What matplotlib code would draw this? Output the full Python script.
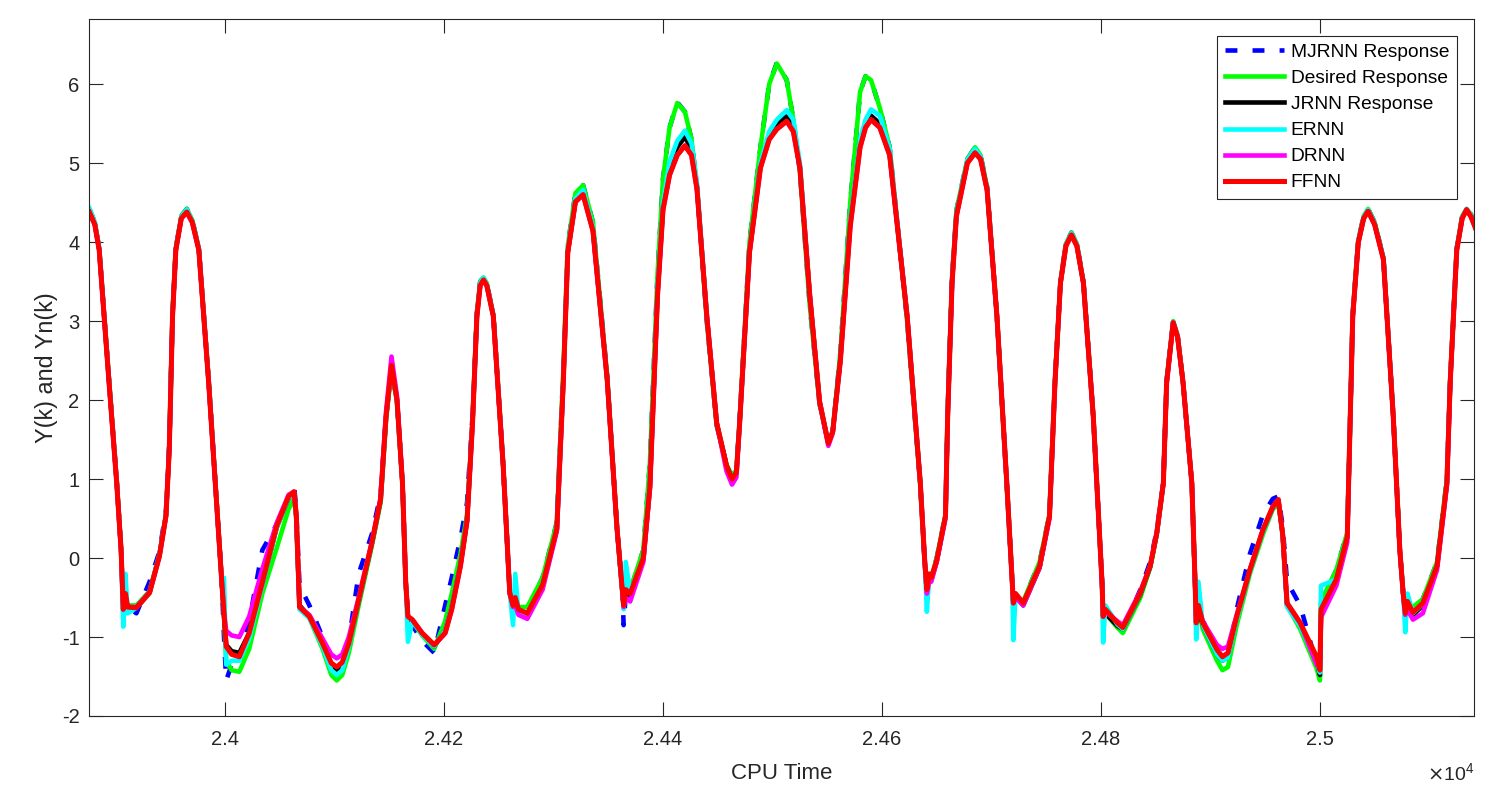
import matplotlib
matplotlib.use("Agg")
import matplotlib.pyplot as plt

plt.rcParams['font.family'] = ['Liberation Sans', 'DejaVu Sans']
plt.rcParams['axes.unicode_minus'] = False

# CPU time samples (shared by all series)
cpu_time = [
    23876, 23881, 23885, 23894, 23901, 23905, 23907, 23909, 23911, 23919,
    23931, 23940, 23946, 23949, 23952, 23955, 23960, 23965, 23970, 23976,
    23985, 23993, 23997, 23999, 24001, 24006, 24013, 24022, 24034, 24047,
    24058, 24063, 24065, 24068, 24077, 24089, 24097, 24102, 24107, 24113,
    24122, 24134, 24142, 24147, 24152, 24157, 24162, 24165, 24167, 24171,
    24180, 24191, 24201, 24207, 24215, 24221, 24226, 24230, 24233, 24236,
    24239, 24245, 24254, 24260, 24263, 24265, 24268, 24276, 24290, 24303,
    24309, 24313, 24320, 24327, 24336, 24349, 24358, 24363, 24364, 24366,
    24370, 24382, 24388, 24395, 24400, 24406, 24413, 24420, 24426, 24431,
    24440, 24449, 24458, 24463, 24467, 24470, 24479, 24489, 24497, 24504,
    24513, 24519, 24525, 24534, 24543, 24551, 24555, 24562, 24571, 24580,
    24585, 24590, 24598, 24607, 24623, 24635, 24639, 24641, 24643, 24645,
    24650, 24658, 24660, 24664, 24668, 24678, 24685, 24690, 24696, 24705,
    24714, 24719, 24720, 24722, 24729, 24744, 24753, 24758, 24763, 24768,
    24773, 24778, 24784, 24793, 24801, 24802, 24804, 24815, 24820, 24836,
    24845, 24851, 24857, 24860, 24866, 24870, 24875, 24883, 24886, 24887,
    24889, 24893, 24906, 24911, 24916, 24924, 24936, 24948, 24957, 24962,
    24966, 24970, 24982, 24997, 25000, 25001, 25015, 25025, 25027, 25030,
    25035, 25040, 25044, 25050, 25058, 25067, 25073, 25076, 25078, 25080,
    25085, 25094, 25107, 25116, 25119, 25125, 25130, 25134, 25138, 25142,
]

mjrnn = [
    4.42, 4.25, 3.92, 2.25, 0.98, 0.12, -0.70, -0.55, -0.62, -0.70,
    -0.30, 0.08, 0.60, 1.45, 3.10, 3.92, 4.33, 4.42, 4.28, 3.92,
    2.25, 0.55, -0.30, -1.00, -1.55, -1.35, -1.35, -0.80, 0.10, 0.42,
    0.75, 0.93, 0.60, -0.35, -0.60, -1.00, -1.35, -1.45, -1.38, -1.05,
    -0.20, 0.30, 0.80, 1.80, 2.40, 1.98, 0.95, -0.31, -0.75, -0.85,
    -1.05, -1.20, -0.60, -0.25, 0.25, 0.70, 1.80, 3.10, 3.50, 3.55,
    3.48, 3.08, 1.17, -0.44, -0.65, -0.55, -0.70, -0.65, -0.25, 0.45,
    2.40, 3.95, 4.62, 4.72, 4.25, 2.30, 0.37, -0.44, -0.85, -0.45,
    -0.42, 0.10, 1.20, 3.60, 4.80, 5.45, 5.77, 5.65, 5.30, 4.70,
    3.00, 1.68, 1.18, 1.05, 1.10, 1.75, 4.00, 5.20, 6.00, 6.27,
    6.05, 5.55, 4.90, 3.20, 1.95, 1.45, 1.60, 2.60, 4.50, 5.90,
    6.10, 6.05, 5.70, 5.20, 3.00, 0.92, -0.05, -0.45, -0.30, -0.25,
    0.00, 0.55, 1.85, 3.55, 4.40, 5.05, 5.20, 5.10, 4.70, 3.05,
    0.92, -0.31, -0.62, -0.50, -0.55, -0.05, 0.55, 2.25, 3.50, 3.98,
    4.12, 3.98, 3.50, 1.80, -0.31, -0.78, -0.70, -0.85, -0.92, -0.40,
    -0.05, 0.35, 0.95, 2.25, 3.00, 2.82, 2.22, 0.95, -0.31, -0.75,
    -0.70, -0.78, -1.25, -1.35, -1.30, -0.65, 0.05, 0.55, 0.75, 0.78,
    0.40, -0.30, -0.60, -1.35, -1.50, -0.60, -0.15, 0.32, 1.40, 3.10,
    4.02, 4.33, 4.42, 4.25, 3.80, 1.80, 0.10, -0.44, -0.70, -0.58,
    -0.65, -0.52, -0.05, 1.00, 2.25, 3.92, 4.33, 4.42, 4.35, 4.20,
]

desired = [
    4.42, 4.25, 3.92, 2.25, 0.98, 0.12, -0.70, -0.55, -0.60, -0.60,
    -0.42, 0.05, 0.55, 1.40, 3.10, 3.92, 4.33, 4.42, 4.28, 3.92,
    2.25, 0.55, -0.30, -0.75, -1.30, -1.42, -1.44, -1.15, -0.45, 0.12,
    0.62, 0.75, 0.50, -0.62, -0.76, -1.15, -1.48, -1.55, -1.48, -1.20,
    -0.60, 0.15, 0.70, 1.75, 2.40, 1.98, 0.95, -0.31, -0.75, -0.80,
    -0.98, -1.15, -0.80, -0.45, 0.05, 0.55, 1.75, 3.10, 3.50, 3.55,
    3.48, 3.08, 1.17, -0.44, -0.62, -0.55, -0.62, -0.62, -0.25, 0.45,
    2.40, 3.95, 4.62, 4.72, 4.25, 2.30, 0.37, -0.44, -0.58, -0.40,
    -0.40, 0.10, 1.20, 3.60, 4.80, 5.45, 5.76, 5.65, 5.30, 4.70,
    3.00, 1.68, 1.18, 1.05, 1.10, 1.75, 4.00, 5.20, 6.00, 6.26,
    6.05, 5.55, 4.90, 3.20, 1.95, 1.45, 1.60, 2.60, 4.50, 5.90,
    6.10, 6.05, 5.70, 5.20, 3.00, 0.92, -0.05, -0.42, -0.30, -0.25,
    0.00, 0.55, 1.85, 3.55, 4.40, 5.05, 5.20, 5.10, 4.70, 3.05,
    0.92, -0.31, -0.60, -0.50, -0.55, -0.05, 0.55, 2.25, 3.50, 3.98,
    4.12, 3.98, 3.50, 1.80, -0.31, -0.75, -0.70, -0.88, -0.95, -0.50,
    -0.12, 0.30, 0.95, 2.25, 3.00, 2.82, 2.22, 0.95, -0.31, -0.80,
    -0.65, -0.90, -1.30, -1.42, -1.38, -0.85, -0.20, 0.30, 0.62, 0.68,
    0.30, -0.60, -0.90, -1.40, -1.55, -0.55, -0.15, 0.32, 1.40, 3.10,
    4.02, 4.33, 4.42, 4.25, 3.80, 1.80, 0.10, -0.44, -0.70, -0.58,
    -0.62, -0.52, -0.05, 1.00, 2.25, 3.92, 4.33, 4.42, 4.35, 4.20,
]

jrnn = [
    4.40, 4.23, 3.91, 2.23, 0.96, 0.10, -0.68, -0.50, -0.62, -0.63,
    -0.44, 0.03, 0.54, 1.38, 3.08, 3.91, 4.31, 4.40, 4.26, 3.91,
    2.23, 0.54, -0.31, -0.72, -1.10, -1.18, -1.20, -0.95, -0.33, 0.38,
    0.76, 0.82, 0.53, -0.60, -0.74, -1.10, -1.38, -1.42, -1.37, -1.10,
    -0.55, 0.18, 0.73, 1.78, 2.42, 2.00, 0.95, -0.31, -0.76, -0.80,
    -0.96, -1.12, -0.92, -0.62, -0.08, 0.48, 1.72, 3.08, 3.47, 3.53,
    3.46, 3.07, 1.17, -0.44, -0.62, -0.55, -0.70, -0.75, -0.36, 0.36,
    2.26, 3.87, 4.52, 4.62, 4.15, 2.26, 0.37, -0.44, -0.62, -0.45,
    -0.50, -0.02, 0.90, 3.35, 4.45, 4.95, 5.20, 5.33, 5.18, 4.70,
    3.06, 1.71, 1.17, 1.00, 1.08, 1.71, 3.88, 4.98, 5.35, 5.50,
    5.59, 5.45, 4.96, 3.33, 1.98, 1.45, 1.60, 2.52, 4.25, 5.28,
    5.50, 5.60, 5.50, 5.12, 3.06, 0.95, -0.03, -0.42, -0.25, -0.28,
    -0.04, 0.53, 1.80, 3.50, 4.35, 5.02, 5.16, 5.07, 4.67, 3.06,
    0.95, -0.31, -0.60, -0.48, -0.60, -0.12, 0.53, 2.22, 3.48, 3.96,
    4.10, 3.96, 3.48, 1.79, -0.31, -0.76, -0.70, -0.86, -0.90, -0.46,
    -0.11, 0.31, 0.95, 2.22, 2.98, 2.80, 2.22, 0.95, -0.31, -0.85,
    -0.65, -0.85, -1.22, -1.30, -1.25, -0.76, -0.16, 0.35, 0.64, 0.73,
    0.30, -0.60, -0.85, -1.30, -1.48, -0.70, -0.28, 0.27, 1.37, 3.06,
    4.00, 4.31, 4.40, 4.23, 3.79, 1.79, 0.10, -0.44, -0.75, -0.65,
    -0.72, -0.60, -0.10, 0.95, 2.22, 3.91, 4.31, 4.41, 4.33, 4.19,
]

ernn = [
    4.43, 4.25, 3.92, 2.24, 0.97, 0.10, -0.87, -0.20, -0.70, -0.63,
    -0.44, 0.03, 0.54, 1.38, 3.08, 3.92, 4.32, 4.41, 4.27, 3.92,
    2.24, 0.54, -0.31, -0.25, -1.35, -1.30, -1.30, -1.02, -0.35, 0.38,
    0.76, 0.82, 0.53, -0.65, -0.76, -1.12, -1.42, -1.48, -1.42, -1.12,
    -0.55, 0.18, 0.73, 1.78, 2.42, 2.00, 0.95, -0.31, -1.06, -0.80,
    -0.97, -1.12, -0.92, -0.62, -0.08, 0.48, 1.72, 3.08, 3.48, 3.55,
    3.47, 3.07, 1.17, -0.44, -0.85, -0.20, -0.70, -0.72, -0.35, 0.37,
    2.28, 3.90, 4.55, 4.66, 4.18, 2.26, 0.37, -0.44, -0.65, -0.05,
    -0.45, 0.00, 0.95, 3.40, 4.50, 5.02, 5.28, 5.41, 5.25, 4.75,
    3.06, 1.71, 1.15, 1.00, 1.06, 1.71, 3.90, 5.00, 5.40, 5.55,
    5.67, 5.55, 5.00, 3.33, 1.98, 1.45, 1.60, 2.52, 4.28, 5.30,
    5.55, 5.68, 5.60, 5.18, 3.06, 0.95, -0.03, -0.68, -0.25, -0.28,
    -0.03, 0.53, 1.80, 3.50, 4.36, 5.04, 5.18, 5.08, 4.68, 3.06,
    0.95, -0.31, -1.04, -0.45, -0.58, -0.10, 0.53, 2.22, 3.48, 3.97,
    4.11, 3.97, 3.48, 1.79, -0.31, -1.07, -0.60, -0.84, -0.90, -0.45,
    -0.10, 0.32, 0.95, 2.22, 2.99, 2.81, 2.22, 0.95, -0.31, -1.03,
    -0.30, -0.85, -1.22, -1.30, -1.26, -0.78, -0.17, 0.34, 0.64, 0.73,
    0.30, -0.62, -0.86, -1.32, -1.45, -0.35, -0.27, 0.28, 1.38, 3.08,
    4.01, 4.32, 4.41, 4.24, 3.80, 1.80, 0.10, -0.44, -0.94, -0.45,
    -0.70, -0.58, -0.10, 0.96, 2.23, 3.92, 4.32, 4.42, 4.34, 4.20,
]

drnn = [
    4.38, 4.22, 3.90, 2.22, 0.95, 0.10, -0.65, -0.48, -0.62, -0.62,
    -0.43, 0.03, 0.54, 1.38, 3.06, 3.90, 4.30, 4.38, 4.25, 3.90,
    2.22, 0.53, -0.31, -0.70, -0.92, -0.98, -1.00, -0.74, -0.14, 0.44,
    0.80, 0.84, 0.55, -0.62, -0.72, -1.02, -1.22, -1.27, -1.22, -1.00,
    -0.50, 0.20, 0.76, 1.85, 2.55, 2.05, 0.95, -0.31, -0.74, -0.78,
    -0.95, -1.10, -0.95, -0.65, -0.10, 0.47, 1.71, 3.06, 3.45, 3.52,
    3.45, 3.06, 1.17, -0.44, -0.62, -0.60, -0.72, -0.77, -0.40, 0.34,
    2.26, 3.87, 4.51, 4.60, 4.14, 2.26, 0.37, -0.44, -0.62, -0.50,
    -0.55, -0.05, 0.88, 3.33, 4.41, 4.85, 5.10, 5.22, 5.10, 4.67,
    3.06, 1.71, 1.10, 0.93, 1.02, 1.71, 3.87, 4.94, 5.30, 5.43,
    5.53, 5.40, 4.94, 3.33, 1.98, 1.42, 1.58, 2.50, 4.20, 5.20,
    5.45, 5.55, 5.45, 5.10, 3.06, 0.95, -0.03, -0.45, -0.30, -0.30,
    -0.05, 0.50, 1.79, 3.48, 4.33, 5.00, 5.13, 5.05, 4.66, 3.06,
    0.95, -0.31, -0.57, -0.50, -0.60, -0.12, 0.50, 2.22, 3.48, 3.95,
    4.09, 3.95, 3.48, 1.79, -0.31, -0.74, -0.68, -0.80, -0.85, -0.42,
    -0.10, 0.32, 0.95, 2.22, 2.98, 2.80, 2.22, 0.95, -0.31, -0.82,
    -0.62, -0.80, -1.10, -1.15, -1.12, -0.72, -0.15, 0.36, 0.65, 0.74,
    0.30, -0.57, -0.82, -1.35, -1.40, -0.75, -0.35, 0.20, 1.37, 3.06,
    3.99, 4.30, 4.39, 4.22, 3.78, 1.79, 0.10, -0.44, -0.72, -0.65,
    -0.78, -0.70, -0.15, 0.92, 2.22, 3.90, 4.30, 4.41, 4.32, 4.18,
]

ffnn = [
    4.38, 4.22, 3.90, 2.22, 0.95, 0.10, -0.65, -0.45, -0.62, -0.63,
    -0.44, 0.02, 0.53, 1.37, 3.06, 3.90, 4.30, 4.38, 4.25, 3.90,
    2.22, 0.53, -0.31, -0.70, -1.12, -1.22, -1.25, -0.95, -0.31, 0.40,
    0.78, 0.84, 0.55, -0.62, -0.74, -1.08, -1.33, -1.38, -1.32, -1.08,
    -0.53, 0.19, 0.74, 1.79, 2.44, 2.00, 0.95, -0.31, -0.74, -0.78,
    -0.95, -1.10, -0.95, -0.65, -0.10, 0.47, 1.71, 3.06, 3.45, 3.52,
    3.45, 3.06, 1.17, -0.44, -0.60, -0.50, -0.65, -0.70, -0.34, 0.37,
    2.26, 3.87, 4.51, 4.60, 4.14, 2.26, 0.37, -0.44, -0.60, -0.40,
    -0.45, 0.00, 0.90, 3.33, 4.41, 4.85, 5.10, 5.22, 5.10, 4.67,
    3.06, 1.71, 1.17, 1.00, 1.08, 1.71, 3.87, 4.94, 5.30, 5.43,
    5.53, 5.40, 4.94, 3.33, 1.98, 1.45, 1.60, 2.50, 4.20, 5.20,
    5.45, 5.55, 5.45, 5.10, 3.06, 0.95, -0.03, -0.40, -0.20, -0.25,
    -0.03, 0.53, 1.79, 3.48, 4.33, 5.00, 5.13, 5.05, 4.66, 3.06,
    0.95, -0.31, -0.57, -0.45, -0.57, -0.10, 0.53, 2.22, 3.48, 3.95,
    4.09, 3.95, 3.48, 1.79, -0.31, -0.74, -0.65, -0.82, -0.88, -0.44,
    -0.10, 0.32, 0.95, 2.22, 2.98, 2.80, 2.22, 0.95, -0.31, -0.82,
    -0.60, -0.82, -1.16, -1.25, -1.20, -0.74, -0.15, 0.36, 0.65, 0.74,
    0.30, -0.57, -0.82, -1.25, -1.42, -0.65, -0.27, 0.27, 1.37, 3.06,
    3.99, 4.30, 4.39, 4.22, 3.78, 1.79, 0.10, -0.44, -0.70, -0.55,
    -0.69, -0.57, -0.10, 0.95, 2.22, 3.90, 4.30, 4.41, 4.32, 4.18,
]

xtick_vals = [24000, 24200, 24400, 24600, 24800, 25000]
xtick_labels = ["2.4", "2.42", "2.44", "2.46", "2.48", "2.5"]
ytick_vals = [-2, -1, 0, 1, 2, 3, 4, 5, 6]

axis_col = '#262626'

fig = plt.figure(figsize=(14.94, 7.85), dpi=100)
ax = fig.add_axes([0.0598, 0.0879, 0.9270, 0.8875])

lw = 3.3
ax.plot(cpu_time, mjrnn, color='#0000FF', lw=lw, ls=(0, (2.6, 3.3)), label='MJRNN Response')
ax.plot(cpu_time, desired, color='#00FF00', lw=lw, label='Desired Response', solid_joinstyle='round')
ax.plot(cpu_time, jrnn, color='black', lw=lw, label='JRNN Response', solid_joinstyle='round')
ax.plot(cpu_time, ernn, color='#00FFFF', lw=lw, label='ERNN', solid_joinstyle='round')
ax.plot(cpu_time, drnn, color='#FF00FF', lw=lw, label='DRNN', solid_joinstyle='round')
ax.plot(cpu_time, ffnn, color='#FF0000', lw=lw + 0.3, label='FFNN', solid_joinstyle='round')

ax.set_xlim(23876, 25141)
ax.set_ylim(-2, 6.82)
ax.set_xticks(xtick_vals, xtick_labels)
ax.set_yticks(ytick_vals)

ax.tick_params(direction='in', length=10, width=0.8, colors=axis_col,
               labelsize=14.5, top=True, right=True)
ax.tick_params(axis='x', pad=10)
ax.tick_params(axis='y', pad=7)
for s in ax.spines.values():
    s.set_color(axis_col)
    s.set_linewidth(0.8)

ax.set_xlabel('CPU Time', fontsize=16, color=axis_col, labelpad=10)
ax.set_ylabel('Y(k) and Yn(k)', fontsize=16.8, color=axis_col, labelpad=3)
ax.text(1.0, -0.082, r'$\times\mathregular{10^{4}}$', transform=ax.transAxes,
        ha='right', va='center', fontsize=14, color=axis_col)

leg = ax.legend(loc='upper right', bbox_to_anchor=(0.9875, 0.976), borderaxespad=0,
                fontsize=13.8, frameon=True, fancybox=False, framealpha=1,
                edgecolor=axis_col, handlelength=3.1, handletextpad=0.35,
                labelspacing=0.45, borderpad=0.4)
leg.get_frame().set_linewidth(0.8)

fig.savefig('out.png', dpi=100)
